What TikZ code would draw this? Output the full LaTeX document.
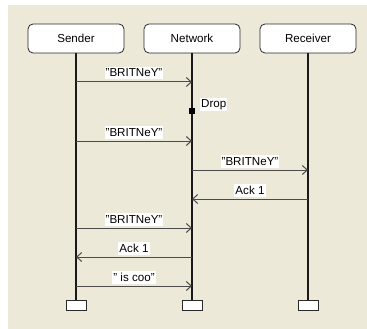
\documentclass[tikz,border=0pt]{standalone}
\usepackage{fontspec}
\setmainfont{Liberation Sans}
\usetikzlibrary{arrows.meta}
\definecolor{panel}{HTML}{ECE9D8}
\definecolor{msgline}{HTML}{4A4A4A}
\definecolor{boxline}{HTML}{2A2A2A}
\tikzset{
  actor/.style={draw=boxline, fill=white, rounded corners=5pt, line width=0.8pt,
    minimum width=96pt, minimum height=29pt, inner sep=0pt, font=\fontsize{11.6}{13}\selectfont},
  endbox/.style={draw=boxline, fill=white, line width=0.8pt,
    minimum width=20pt, minimum height=10pt, inner sep=0pt},
  lifeline/.style={line width=1.8pt, black!90},
  msg/.style={draw=msgline, line width=1pt, -{Straight Barb[length=5pt,width=9pt,line width=1pt]}},
  msglabel/.style={fill=white, inner sep=1pt, text height=9pt, text depth=1.5pt,
    font=\fontsize{11.6}{13}\selectfont, anchor=south},
  dropmark/.style={fill=black, minimum size=6.5pt, inner sep=0pt}
}
\begin{document}
\begin{tikzpicture}[x=1pt, y=-1pt]
  \useasboundingbox (0,0) rectangle (367,329);
  % panel background
  \fill[panel] (8,5) rectangle (367,329);

  % participants
  \node[actor] (snd) at (76,38.5) {Sender};
  \node[actor] (net) at (192,38.5) {Network};
  \node[actor] (rcv) at (308,38.5) {Receiver};

  % lifeline ends
  \node[endbox] (sndE) at (76,305) {};
  \node[endbox] (netE) at (192,305) {};
  \node[endbox] (rcvE) at (308,305) {};

  \draw[lifeline] (snd.south) -- (sndE.north);
  \draw[lifeline] (net.south) -- (netE.north);
  \draw[lifeline] (rcv.south) -- (rcvE.north);

  % message anchor points on the lifelines
  \coordinate (s1) at (76,82);   \coordinate (n1) at (192,82);
  \coordinate (d)  at (192,111);
  \coordinate (s2) at (76,141);  \coordinate (n2) at (192,141);
  \coordinate (n3) at (192,170); \coordinate (r3) at (308,170);
  \coordinate (n4) at (192,199); \coordinate (r4) at (308,199);
  \coordinate (s5) at (76,228);  \coordinate (n5) at (192,228);
  \coordinate (s6) at (76,257);  \coordinate (n6) at (192,257);
  \coordinate (s7) at (76,286);  \coordinate (n7) at (192,286);

  % messages
  \draw[msg] (s1) -- node[msglabel, yshift=2pt] {"BRITNeY"} (n1);
  \node[dropmark] (dropsq) at (d) {};
  \node[fill=white, inner sep=1pt, anchor=west, font=\fontsize{11.6}{13}\selectfont] (droplbl) at (200,104.5) {Drop};
  \draw[msg] (s2) -- node[msglabel, yshift=2pt] {"BRITNeY"} (n2);
  \draw[msg] (n3) -- node[msglabel, yshift=2pt] {"BRITNeY"} (r3);
  \draw[msg] (r4) -- node[msglabel, yshift=2pt] {Ack 1} (n4);
  \draw[msg] (s5) -- node[msglabel, yshift=2pt] {"BRITNeY"} (n5);
  \draw[msg] (n6) -- node[msglabel, yshift=2pt] {Ack 1} (s6);
  \draw[msg] (s7) -- node[msglabel, yshift=2pt] {" is coo"} (n7);
\end{tikzpicture}
\end{document}
